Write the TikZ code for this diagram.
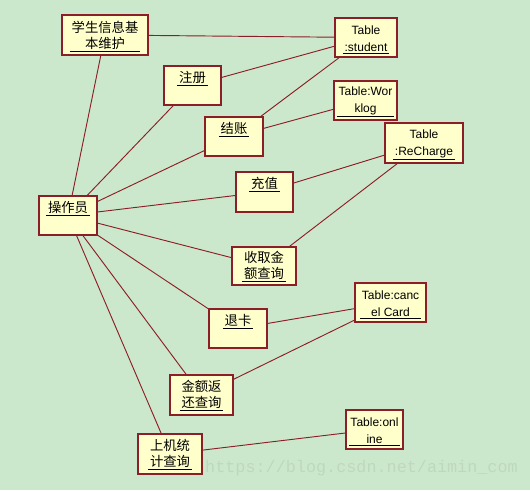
\documentclass[tikz,border=0pt]{standalone}
\usepackage{fontspec}
\setmainfont{Liberation Sans}
\newfontfamily\zhfamily{Noto Sans CJK SC}
\newfontfamily\wmfamily{Liberation Mono}
\newcommand\zhtext{\zhfamily\fontsize{10}{12.4}\selectfont}
\newcommand\entext{\fontsize{9}{12.6}\selectfont}
\definecolor{bggreen}{RGB}{204,232,204}
\definecolor{boxfill}{RGB}{255,255,204}
\definecolor{boxred}{RGB}{140,30,40}
\definecolor{wmgray}{RGB}{190,216,190}
\tikzset{
  objbox/.style 2 args={draw=boxred, fill=boxfill, line width=0.8pt, inner sep=0pt,
     minimum width=#1*0.75pt, minimum height=#2*0.75pt},
  lbl/.style={anchor=south, align=center, inner xsep=1.2pt, inner ysep=0.8pt, text=black,
     append after command={(\tikzlastnode.south west) edge[draw=black, line width=0.6pt] (\tikzlastnode.south east)}},
  zh/.style={lbl, font=\zhtext},
  en/.style={lbl, font=\entext},
  link/.style={draw=boxred, line width=0.7pt}
}
\begin{document}
\begin{tikzpicture}[x=0.75pt,y=-0.75pt]
\fill[bggreen] (0,0) rectangle (530,490);
\useasboundingbox (0,0) rectangle (530,490);

\node[wmgray, font=\wmfamily\fontsize{12.6}{14}\selectfont, anchor=center] (wm) at (361.5,468) {https://blog.csdn.net/aimin\_com};

% boxes
\node[objbox={86}{40}] (stu) at (105,35) {};
\node[objbox={57}{39}] (reg) at (192.5,85.5) {};
\node[objbox={58}{39}] (chk) at (234,136.5) {};
\node[objbox={57}{40}] (chg) at (264.5,192) {};
\node[objbox={58}{39}] (op) at (68,215.5) {};
\node[objbox={62}{39}] (tstu) at (366,37.5) {};
\node[objbox={63}{39}] (twl) at (365.5,100.5) {};
\node[objbox={78}{40}] (trc) at (424,143) {};
\node[objbox={64}{38}] (qry) at (264,266) {};
\node[objbox={58}{39}] (ret) at (238,328.5) {};
\node[objbox={63}{40}] (rfd) at (201.5,395) {};
\node[objbox={64}{40}] (stat) at (170,454) {};
\node[objbox={71}{39}] (tcc) at (390.5,302.5) {};
\node[objbox={57}{39}] (tol) at (374.5,429.5) {};

% labels
\node[zh] (stu-t) at (105,51) {学生信息基\\本维护};
\node[zh] (reg-t) at (192.5,85) {注册};
\node[zh] (chk-t) at (234,136) {结账};
\node[zh] (chg-t) at (264.5,191) {充值};
\node[zh] (op-t) at (68,215) {操作员};
\node[en] (tstu-t) at (366,53) {Table\\:student};
\node[en] (twl-t) at (365.5,116) {Table:Wor\\klog};
\node[en] (trc-t) at (424,159) {Table\\:ReCharge};
\node[zh] (qry-t) at (264,281) {收取金\\额查询};
\node[zh] (ret-t) at (238,328) {退卡};
\node[zh] (rfd-t) at (201.5,410) {金额返\\还查询};
\node[zh] (stat-t) at (170,469) {上机统\\计查询};
\node[en] (tcc-t) at (390.5,318) {Table:canc\\el Card};
\node[en] (tol-t) at (374.5,445) {Table:onl\\ine};

% connectors
\draw[link] (op) -- (stu);
\draw[link] (op) -- (reg);
\draw[link] (op) -- (chk);
\draw[link] (op) -- (chg);
\draw[link] (op) -- (qry);
\draw[link] (op) -- (ret);
\draw[link] (op) -- (rfd);
\draw[link] (op) -- (stat);
\draw[link] (stu) -- (tstu);
\draw[link] (reg) -- (tstu);
\draw[link] (chk) -- (tstu);
\draw[link] (chk) -- (twl);
\draw[link] (chg) -- (trc);
\draw[link] (qry) -- (trc);
\draw[link] (ret) -- (tcc);
\draw[link] (rfd) -- (tcc);
\draw[link] (stat) -- (tol);
\end{tikzpicture}
\end{document}
